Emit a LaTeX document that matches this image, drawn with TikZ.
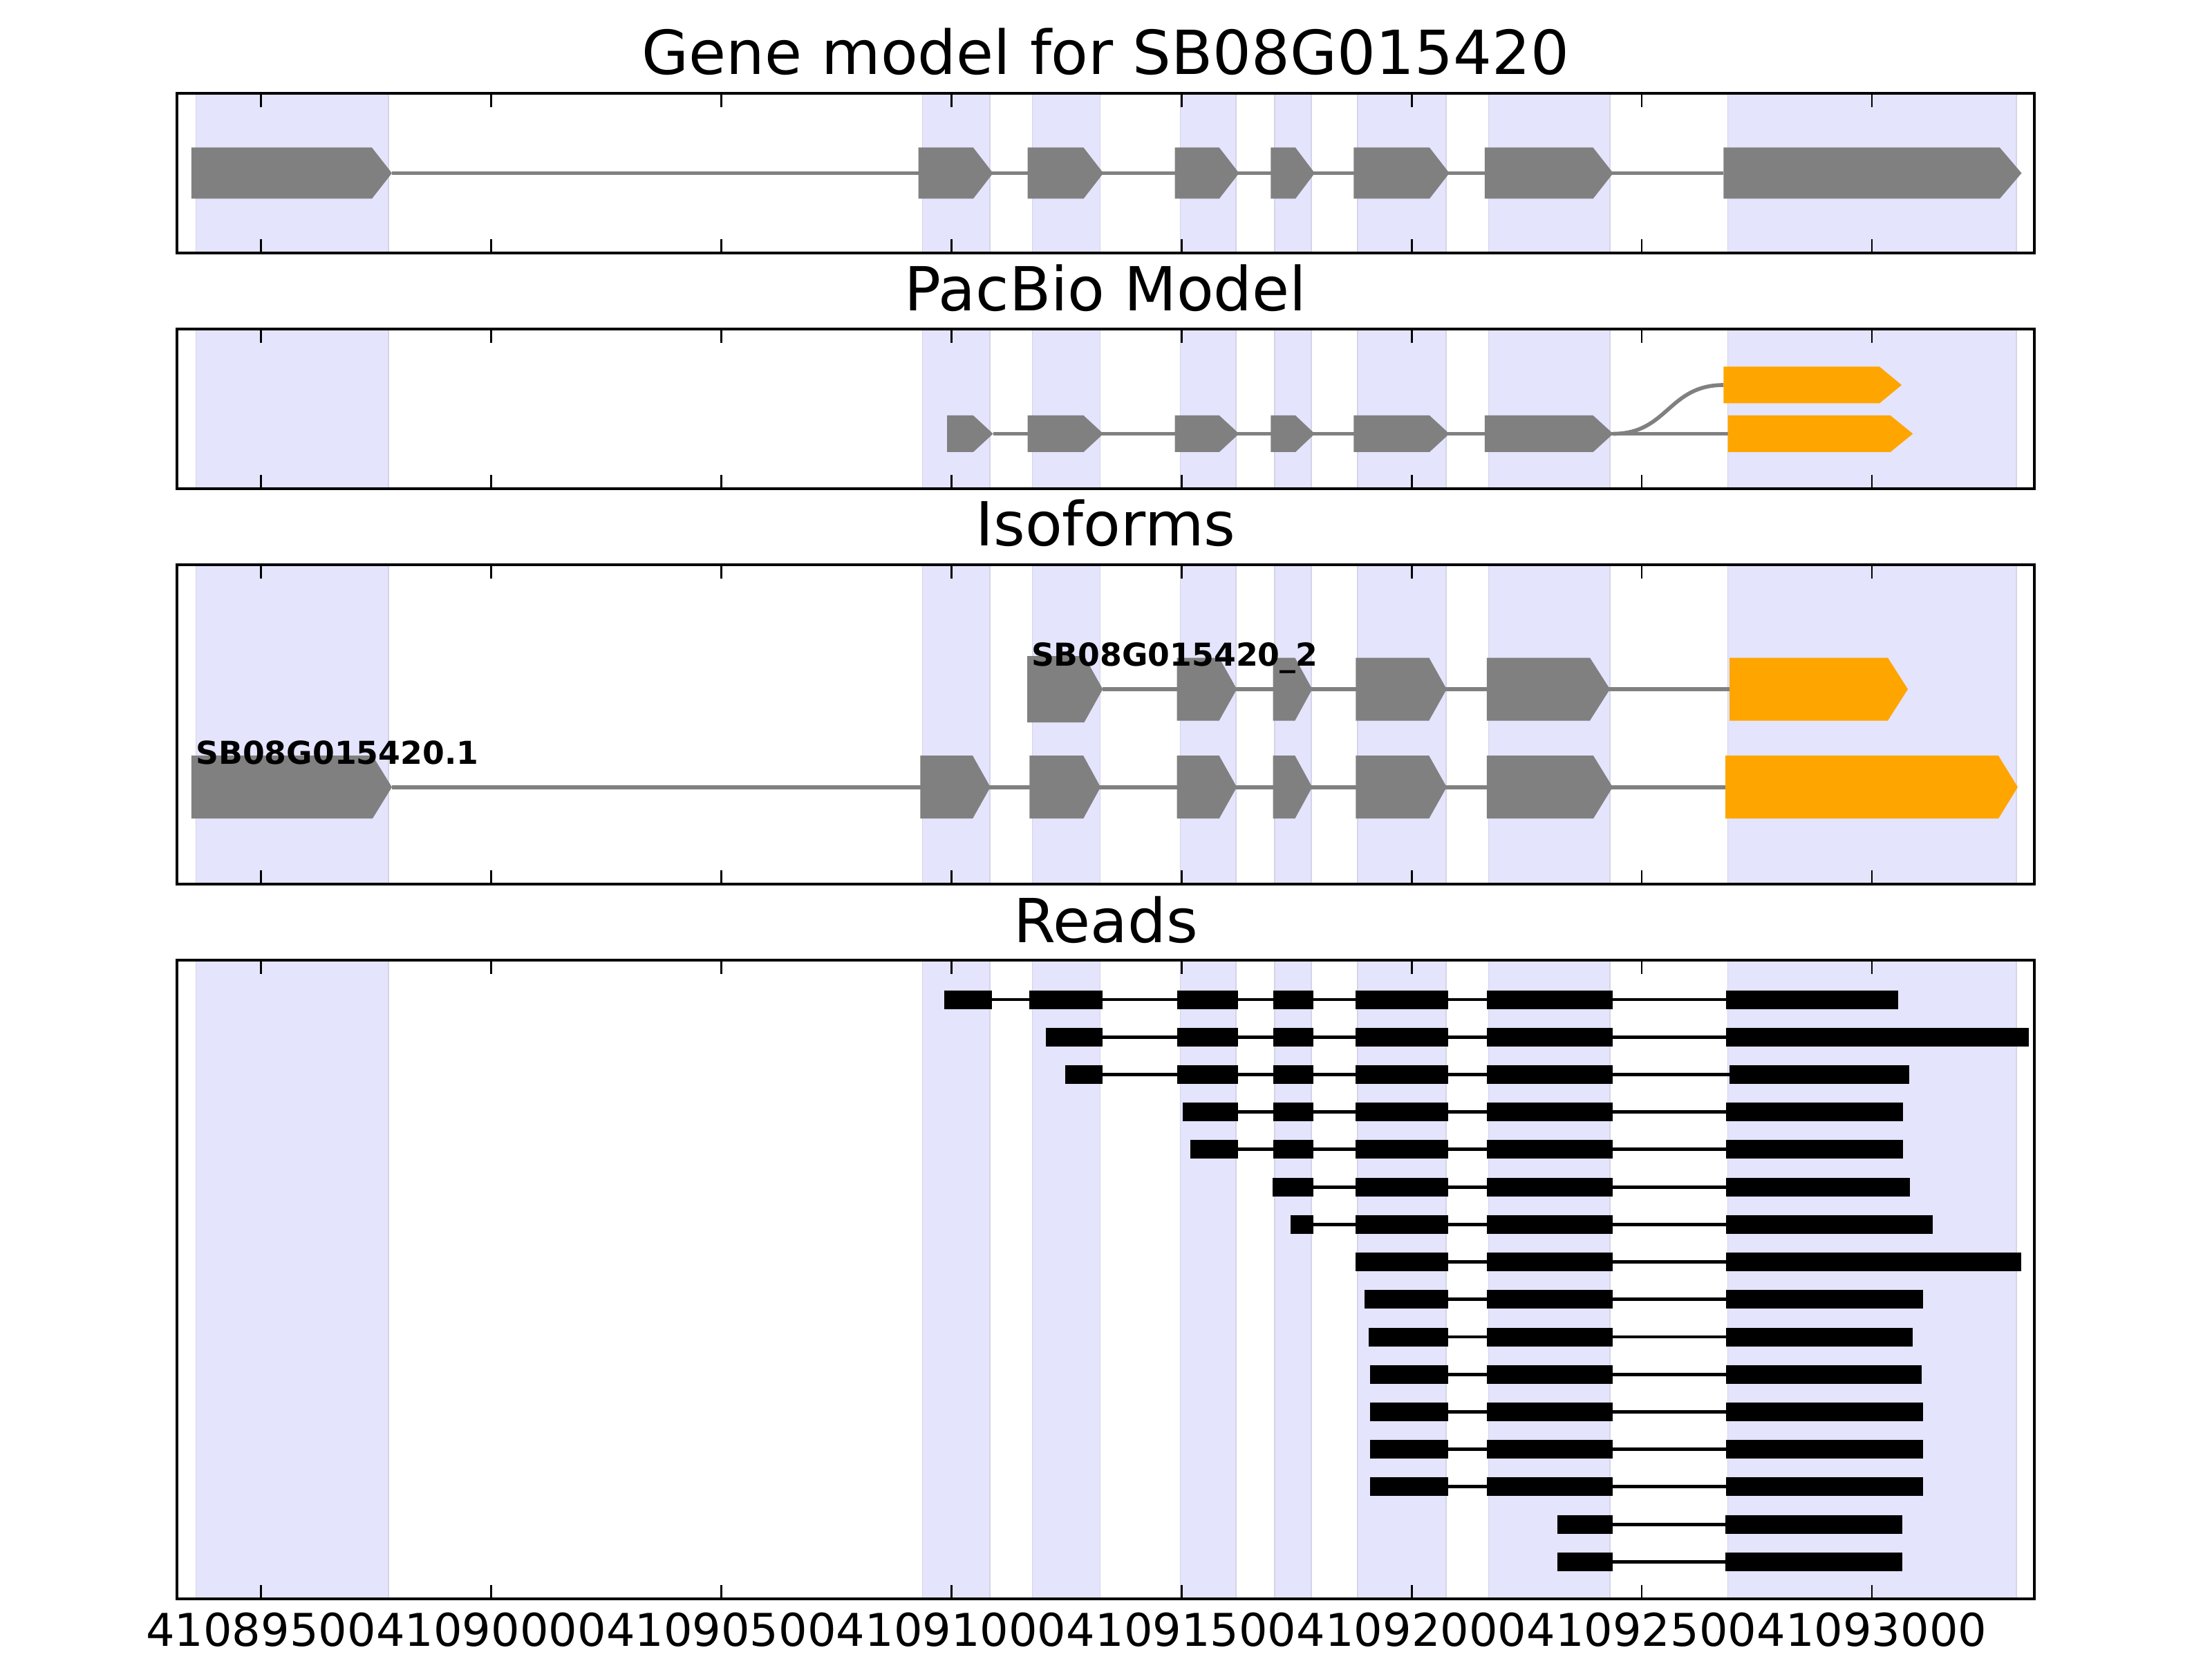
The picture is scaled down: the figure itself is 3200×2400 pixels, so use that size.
\documentclass[tikz,border=0pt]{standalone}
\usepackage{fontspec}
\setmainfont{DejaVu Sans}
\usepackage{tikz}

\definecolor{exongray}{RGB}{128,128,128}
\definecolor{exonorange}{RGB}{255,165,0}
\definecolor{bandfill}{RGB}{228,228,253}
\definecolor{bandedge}{RGB}{212,212,232}

\begin{document}
\begin{tikzpicture}[
x=0.1mm, y=-0.1mm,
band/.style={fill=bandfill, draw=bandedge, line width=0.5pt},
axis-box/.style={draw=black, line width=1.4pt},
tick/.style={draw=black, line width=0.8pt},
intron/.style={draw=exongray, line width=1.6pt},
exon/.style={fill=exongray},
exon-alt/.style={fill=exonorange},
read-line/.style={draw=black, line width=1.4pt},
read-bar/.style={fill=black},
title/.style={font=\fontsize{25}{30}\selectfont, anchor=base, inner sep=0pt},
tick-label/.style={font=\fontsize{18.6}{22}\selectfont, anchor=north, inner sep=0pt},
iso-label/.style={font=\bfseries\fontsize{13}{15}\selectfont, anchor=base west, inner sep=0pt}
]
\useasboundingbox (0,0) rectangle (3200,2400);

% exon bands in every panel
\foreach \a/\b in {283.6/561.7, 1334.4/1432, 1493.4/1591.6, 1707.5/1787.9,
                   1844/1897, 1964/2092, 2153.5/2329, 2499.5/2916.8}
  \foreach \t/\u in {135/366, 476/707, 817/1279, 1389/2313}
    \filldraw[band] (\a,\t) rectangle (\b,\u);

% gene model
\draw[intron] (567,250.5) -- (2493.4,250.5);
\foreach \a/\b/\c in {276.9/538/567, 1328.7/1407.9/1436.6, 1486.6/1567.5/1596.2,
                      1699.5/1763.8/1792.5, 1838.4/1874/1902, 1958.4/2068/2096.7,
                      2147.8/2304.6/2333.7, 2493.4/2892.9/2924.5}
  \fill[exon] (\a,213.5) -- (\b,213.5) -- (\c,250.5) -- (\b,287.5) -- (\a,287.5) -- cycle;

% pacbio model
\draw[intron] (1436.6,627.5) -- (2499.5,627.5);
\draw[intron] (2333.7,627.5) .. controls (2413,627.5) and (2413,557) .. (2493.4,557);
\foreach \a/\b/\c in {1370/1407.9/1436.6, 1486.6/1567.5/1596.2, 1699.5/1763.8/1792.5,
                      1838.4/1874/1902, 1958.4/2068/2096.7, 2147.8/2304.6/2333.7}
  \fill[exon] (\a,601) -- (\b,601) -- (\c,627.5) -- (\b,654) -- (\a,654) -- cycle;
\fill[exon-alt] (2499.5,601) -- (2734.7,601) -- (2767.3,627.5) -- (2734.7,654) -- (2499.5,654) -- cycle;
\fill[exon-alt] (2493.4,530.5) -- (2718.9,530.5) -- (2751,557) -- (2718.9,583.5) -- (2493.4,583.5) -- cycle;

% isoforms
\draw[intron] (567,1138.7) -- (2496,1138.7);
\foreach \a/\b/\c in {276.9/538.9/567, 1331.3/1407.1/1432.7, 1489.4/1567.2/1592.1,
                      1702.5/1763.7/1789.2, 1841.5/1873.4/1898.3, 1961.4/2067.3/2092.8,
                      2150.8/2305/2333}
  \fill[exon] (\a,1093.2) -- (\b,1093.2) -- (\c,1138.7) -- (\b,1184.2) -- (\a,1184.2) -- cycle;
\fill[exon-alt] (2496,1093.2) -- (2891,1093.2) -- (2919,1138.7) -- (2891,1184.2) -- (2496,1184.2) -- cycle;
\draw[intron] (1595.3,997) -- (2502,997);
\fill[exon] (1486.2,949) -- (1568.5,949) -- (1595.3,997) -- (1568.5,1045) -- (1486.2,1045) -- cycle;
\foreach \a/\b/\c in {1702.5/1763.7/1789.2, 1841.5/1873.4/1898.3, 1961.4/2067.3/2092.8,
                      2150.8/2300/2329}
  \fill[exon] (\a,951.5) -- (\b,951.5) -- (\c,997) -- (\b,1042.5) -- (\a,1042.5) -- cycle;
\fill[exon-alt] (2502,951.5) -- (2731,951.5) -- (2760,997) -- (2731,1042.5) -- (2502,1042.5) -- cycle;
\node[iso-label] (iso-1) at (282.7,1105) {SB08G015420.1};
\node[iso-label] (iso-2) at (1491.3,963.3) {SB08G015420\_2};

% reads
\draw[read-line] (1366.3,1446) -- (2745.7,1446);
\foreach \a/\b in {1366.3/1434.6, 1489.4/1594.7, 1702.5/1791.1, 1841.5/1900.2,
                   1961.4/2095.3, 2150.8/2332.5, 2496.5/2745.7}
  \fill[read-bar] (\a,1432.5) rectangle (\b,1459.5);
\draw[read-line] (1513,1500.2) -- (2934.7,1500.2);
\foreach \a/\b in {1513/1594.7, 1702.5/1791.1, 1841.5/1900.2,
                   1961.4/2095.3, 2150.8/2332.5, 2496.5/2934.7}
  \fill[read-bar] (\a,1486.7) rectangle (\b,1513.7);
\draw[read-line] (1541,1554.4) -- (2761.5,1554.4);
\foreach \a/\b in {1541/1594.7, 1702.5/1791.1, 1841.5/1900.2,
                   1961.4/2095.3, 2150.8/2332.5, 2502.3/2761.5}
  \fill[read-bar] (\a,1540.9) rectangle (\b,1567.9);
\draw[read-line] (1711.4,1608.7) -- (2753.4,1608.7);
\foreach \a/\b in {1711.4/1791.1, 1841.5/1900.2, 1961.4/2095.3, 2150.8/2332.5, 2496.5/2753.4}
  \fill[read-bar] (\a,1595.2) rectangle (\b,1622.2);
\draw[read-line] (1722.2,1662.9) -- (2753.4,1662.9);
\foreach \a/\b in {1722.2/1791.1, 1841.5/1900.2, 1961.4/2095.3, 2150.8/2332.5, 2496.5/2753.4}
  \fill[read-bar] (\a,1649.4) rectangle (\b,1676.4);
\draw[read-line] (1840.9,1717.1) -- (2762.5,1717.1);
\foreach \a/\b in {1840.9/1900.2, 1961.4/2095.3, 2150.8/2332.5, 2496.5/2762.5}
  \fill[read-bar] (\a,1703.6) rectangle (\b,1730.6);
\draw[read-line] (1867,1771.3) -- (2795.5,1771.3);
\foreach \a/\b in {1867/1900.2, 1961.4/2095.3, 2150.8/2332.5, 2496.5/2795.5}
  \fill[read-bar] (\a,1757.8) rectangle (\b,1784.8);
\draw[read-line] (1961,1825.5) -- (2924,1825.5);
\foreach \a/\b in {1961/2095.3, 2150.8/2332.5, 2496.5/2924}
  \fill[read-bar] (\a,1812) rectangle (\b,1839);
\draw[read-line] (1973.5,1879.8) -- (2781.6,1879.8);
\foreach \a/\b in {1973.5/2095.3, 2150.8/2332.5, 2496.5/2781.6}
  \fill[read-bar] (\a,1866.3) rectangle (\b,1893.3);
\draw[read-line] (1979.6,1934) -- (2767,1934);
\foreach \a/\b in {1979.6/2095.3, 2150.8/2332.5, 2496.5/2767}
  \fill[read-bar] (\a,1920.5) rectangle (\b,1947.5);
\draw[read-line] (1981.6,1988.2) -- (2779.6,1988.2);
\foreach \a/\b in {1981.6/2095.3, 2150.8/2332.5, 2496.5/2779.6}
  \fill[read-bar] (\a,1974.7) rectangle (\b,2001.7);
\draw[read-line] (1981.8,2042.4) -- (2782,2042.4);
\foreach \a/\b in {1981.8/2095.3, 2150.8/2332.5, 2496.5/2782}
  \fill[read-bar] (\a,2028.9) rectangle (\b,2055.9);
\draw[read-line] (1981.8,2096.6) -- (2782,2096.6);
\foreach \a/\b in {1981.8/2095.3, 2150.8/2332.5, 2496.5/2782}
  \fill[read-bar] (\a,2083.1) rectangle (\b,2110.1);
\draw[read-line] (1981.8,2150.9) -- (2782.2,2150.9);
\foreach \a/\b in {1981.8/2095.3, 2150.8/2332.5, 2496.5/2782.2}
  \fill[read-bar] (\a,2137.4) rectangle (\b,2164.4);
\draw[read-line] (2252.8,2205.1) -- (2751.6,2205.1);
\foreach \a/\b in {2252.8/2332.6, 2495.8/2751.6}
  \fill[read-bar] (\a,2191.6) rectangle (\b,2218.6);
\draw[read-line] (2252.8,2259.3) -- (2751.6,2259.3);
\foreach \a/\b in {2252.8/2332.6, 2495.8/2751.6}
  \fill[read-bar] (\a,2245.8) rectangle (\b,2272.8);

% ticks and frames
\foreach \k in {0,...,7}
  \foreach \t/\u in {135/366, 476/707, 817/1279, 1389/2313} {
    \draw[tick] ({377.6+332.9*\k},\t) -- ++(0,20);
    \draw[tick] ({377.6+332.9*\k},\u) -- ++(0,-20);
  }
\foreach \t/\u in {135/366, 476/707, 817/1279, 1389/2313}
  \draw[axis-box] (256,\t) rectangle (2943,\u);

\foreach \k/\lab in {0/41089500, 1/41090000, 2/41090500, 3/41091000,
                     4/41091500, 5/41092000, 6/41092500, 7/41093000}
  \node[tick-label] (tick-\k) at ({377.6+332.9*\k},2332) {\lab};

\node[title] (title-gene) at (1599.5,108) {Gene model for SB08G015420};
\node[title] (title-pacbio) at (1599.5,450) {PacBio Model};
\node[title] (title-iso) at (1599.5,790) {Isoforms};
\node[title] (title-reads) at (1599.5,1363) {Reads};

\end{tikzpicture}
\end{document}
